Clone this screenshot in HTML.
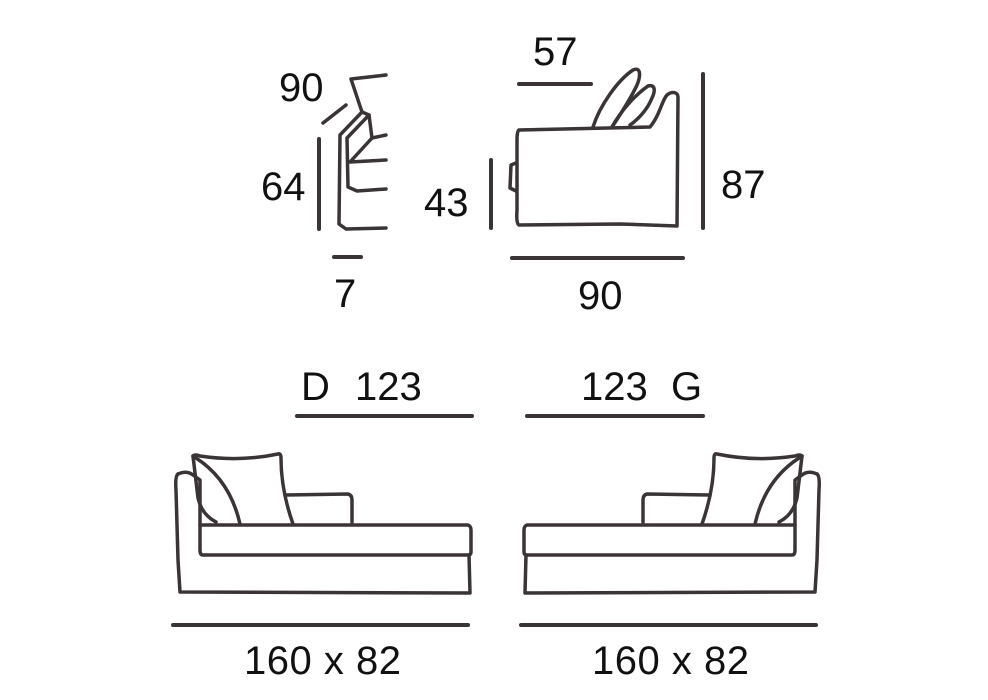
<!DOCTYPE html>
<html><head><style>
html,body{margin:0;padding:0;background:#fff;}
svg{display:block;}
text{font-family:"Liberation Sans",sans-serif;font-size:40px;fill:#111;}
</style></head><body>
<svg width="988" height="700" viewBox="0 0 988 700" xmlns="http://www.w3.org/2000/svg">
<g stroke="#3b3436" stroke-width="3.5" fill="none" stroke-linejoin="round" stroke-linecap="round">
<line x1="323" y1="123" x2="346" y2="105"/>
<line x1="319" y1="139" x2="319" y2="229" stroke-width="4"/>
<line x1="334" y1="257" x2="361" y2="257" stroke-width="4"/>
<path d="M386,75 L351,79 L362,112 L340,135 L339,224 L346,229 L386,228"/>
<path d="M362,112 L369,115 L347,138 L348,187 L357,191 L386,189"/>
<path d="M369,115 L372,138 L386,135"/>
<path d="M372,138 L350,162 L386,160"/>
<line x1="519" y1="84" x2="591" y2="84" stroke-width="4"/>
<line x1="491" y1="160" x2="491" y2="228" stroke-width="4"/>
<line x1="703" y1="74" x2="703" y2="228" stroke-width="4"/>
<line x1="512" y1="258" x2="683" y2="258" stroke-width="4"/>
<path d="M593,127 C600,105 618,80 633,70 C642,66 640,78 637,85 C630,100 620,115 612,127"/>
<path d="M612,127 C620,112 635,95 648,86 C656,84 655,92 652,98 C648,108 640,118 630,125"/>
<path d="M519,130 L650,127 C660,115 662,100 667,95 C672,91 678,92 678,97 L677,226 L620,224 L519,225 Q516,224 517,210 L517,140 Q517,131 519,130 Z"/>
<path d="M516,163 L511,165 L510,188 L516,191"/>
<path d="M178,474 Q187,470 193,475 L200,480 L200,525"/>
<path d="M178,474 Q175,476 176,490 L178,560 L180,592 L470,593 L469,555"/>
<path d="M200,525 L468,525 Q471,526 471,530 L471,552 Q471,555 468,555 L203,555 Q200,555 200,550 Z"/>
<path d="M193,456 Q195,454 200,456 Q240,462 278,454 Q281,453 281,458 Q281,490 293,524"/>
<path d="M196,458 Q230,480 240,524"/>
<path d="M193,456 L198,498 Q202,515 216,522"/>
<path d="M286,495 L348,494 Q352,495 352,500 L352,522"/>
<g transform="translate(995,0) scale(-1,1)">
<path d="M178,474 Q187,470 193,475 L200,480 L200,525"/>
<path d="M178,474 Q175,476 176,490 L178,560 L180,592 L470,593 L469,555"/>
<path d="M200,525 L468,525 Q471,526 471,530 L471,552 Q471,555 468,555 L203,555 Q200,555 200,550 Z"/>
<path d="M193,456 Q195,454 200,456 Q240,462 278,454 Q281,453 281,458 Q281,490 293,524"/>
<path d="M196,458 Q230,480 240,524"/>
<path d="M193,456 L198,498 Q202,515 216,522"/>
<path d="M286,495 L348,494 Q352,495 352,500 L352,522"/>
</g>
<line x1="297" y1="416" x2="472" y2="416" stroke-width="4"/>
<line x1="527" y1="416" x2="703" y2="416" stroke-width="4"/>
<line x1="173" y1="625" x2="468" y2="625" stroke-width="4"/>
<line x1="521" y1="625" x2="816" y2="625" stroke-width="4"/>
</g>
<text x="279" y="101">90</text>
<text x="261" y="200">64</text>
<text x="334" y="307">7</text>
<text x="533" y="65">57</text>
<text x="424" y="216">43</text>
<text x="721" y="198">87</text>
<text x="578" y="309">90</text>
<text x="301" y="400">D</text>
<text x="355" y="400">123</text>
<text x="581" y="400">123</text>
<text x="671" y="400">G</text>
<text x="244" y="674" textLength="157" lengthAdjust="spacing">160 x 82</text>
<text x="592" y="674" textLength="157" lengthAdjust="spacing">160 x 82</text>
</svg>
</body></html>
